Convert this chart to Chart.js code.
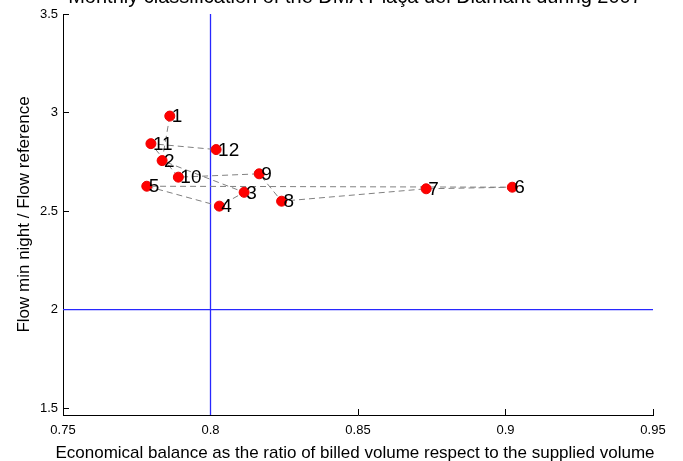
<!DOCTYPE html>
<html>
<head>
<meta charset="utf-8">
<script src="https://cdn.jsdelivr.net/npm/chart.js@4.4.0/dist/chart.umd.min.js"></script>
<style>
  html, body { margin: 0; padding: 0; background: #fff; }
  #wrap { width: 683px; height: 461px; position: relative; }
</style>
</head>
<body>
<div id="wrap"><canvas id="graph-section"></canvas></div>
<script>
const ctx = document.getElementById("graph-section").getContext("2d");

// monthly points (1..12)
let months = ["1", "2", "3", "4", "5", "6", "7", "8", "9", "10", "11", "12"];
let balance = [0.7862, 0.7836, 0.8114, 0.8030, 0.7784, 0.9023, 0.8731, 0.8241, 0.8165, 0.7891, 0.7798, 0.8019];
let flowRatio = [2.982, 2.756, 2.595, 2.525, 2.626, 2.621, 2.613, 2.550, 2.689, 2.672, 2.842, 2.812];

// reference lines
let refBalance = 0.8;
let refFlow = 2;

let xTicks = [0.75, 0.8, 0.85, 0.9, 0.95];
let yTicks = [1.5, 2, 2.5, 3, 3.5];
let xMin = 0.75, xMax = 0.95;
let yMin = 1.465, yMax = 3.5;

const titleText = "Monthly classification of the DMA Plaça del Diamant during 2007";
const xLabel = "Economical balance as the ratio of billed volume respect to the supplied volume";
const yLabel = "Flow min night / Flow reference";

let points = [];
for (let i = 0; i < balance.length; i++) {
  points.push({ x: balance[i], y: flowRatio[i] });
}

// matlab style number labels (0.8 not 0.80)
function fmt(v) {
  return String(parseFloat(Number(v).toFixed(2)));
}

// inward ticks go under the lines
const ticksIn = {
  id: "ticksIn",
  beforeDatasetsDraw(chart) {
    const c = chart.ctx;
    const xs = chart.scales.x;
    const ys = chart.scales.y;
    const area = chart.chartArea;
    c.save();
    c.strokeStyle = "#000";
    c.lineWidth = 1;
    c.beginPath();
    xTicks.forEach((v) => {
      const px = Math.floor(xs.getPixelForValue(v)) + 0.5;
      c.moveTo(px, area.bottom);
      c.lineTo(px, area.bottom - 6);
    });
    yTicks.forEach((v) => {
      const py = Math.floor(ys.getPixelForValue(v)) + 0.5;
      c.moveTo(area.left, py);
      c.lineTo(area.left + 6, py);
    });
    c.stroke();
    c.restore();
  },
};

// month labels, axis titles, title
const extras = {
  id: "extras",
  afterDatasetsDraw(chart) {
    const c = chart.ctx;
    const xs = chart.scales.x;
    const ys = chart.scales.y;
    const area = chart.chartArea;
    c.save();
    c.fillStyle = "#000";
    c.font = "19px 'Liberation Sans', Arial, sans-serif";
    c.textAlign = "left";
    c.textBaseline = "middle";
    for (let i = 0; i < months.length; i++) {
      const px = xs.getPixelForValue(balance[i]);
      const py = ys.getPixelForValue(flowRatio[i]);
      c.fillText(months[i], px + 2, py + 1);
    }

    c.font = "17px 'Liberation Sans', Arial, sans-serif";
    c.textAlign = "center";
    c.textBaseline = "alphabetic";
    c.fillText(xLabel, (area.left + area.right) / 2 - 3, 458);
    c.save();
    c.translate(29, (area.top + area.bottom) / 2);
    c.rotate(-Math.PI / 2);
    c.fillText(yLabel, 0, 0);
    c.restore();

    // title, cut off at the top
    c.font = "20px 'Liberation Sans', Arial, sans-serif";
    c.fillText(titleText, 355, 3);
    c.restore();
  },
};

const data = {
  datasets: [
    {
      label: "months",
      data: points,
      showLine: true,
      fill: false,
      borderColor: "rgb(128, 128, 128)",
      borderWidth: 1,
      borderDash: [6, 4],
      pointRadius: 5,
      pointBackgroundColor: "rgb(255, 0, 0)",
      pointBorderColor: "rgb(235, 0, 0)",
      pointBorderWidth: 1,
      tension: 0,
      order: 0,
    },
    {
      label: "ref balance",
      data: [{ x: refBalance, y: yMin }, { x: refBalance, y: yMax }],
      showLine: true,
      borderColor: "rgb(40, 40, 255)",
      borderWidth: 1.3,
      pointRadius: 0,
      order: 1,
    },
    {
      label: "ref flow",
      data: [{ x: xMin, y: refFlow }, { x: xMax, y: refFlow }],
      showLine: true,
      borderColor: "rgb(40, 40, 255)",
      borderWidth: 1.3,
      pointRadius: 0,
      order: 1,
    },
  ],
};

const config = {
  type: "scatter",
  data: data,
  plugins: [ticksIn, extras],
  options: {
    responsive: false,
    animation: false,
    layout: { padding: { top: 14, right: 30, left: 0, bottom: 0 } },
    plugins: { legend: { display: false }, tooltip: { enabled: false } },
    scales: {
      x: {
        type: "linear",
        min: xMin,
        max: xMax,
        afterBuildTicks: (s) => { s.ticks = xTicks.map((v) => ({ value: v })); },
        afterFit: (s) => { s.height = 46; },
        grid: { display: false, drawTicks: false },
        border: { display: true, color: "#000", width: 1 },
        ticks: {
          color: "#000",
          padding: 8,
          maxRotation: 0,
          autoSkip: false,
          callback: fmt,
          font: { family: "'Liberation Sans', Arial, sans-serif", size: 13 },
        },
      },
      y: {
        type: "linear",
        min: yMin,
        max: yMax,
        afterBuildTicks: (s) => { s.ticks = yTicks.map((v) => ({ value: v })); },
        afterFit: (s) => { s.width = 63; },
        grid: { display: false, drawTicks: false },
        border: { display: true, color: "#000", width: 1 },
        ticks: {
          color: "#000",
          padding: 5,
          autoSkip: false,
          callback: fmt,
          font: { family: "'Liberation Sans', Arial, sans-serif", size: 13 },
        },
      },
    },
  },
};

const canvas = document.getElementById("graph-section");
canvas.width = 683;
canvas.height = 461;
let myChart = new Chart(ctx, config);
</script>
</body>
</html>
